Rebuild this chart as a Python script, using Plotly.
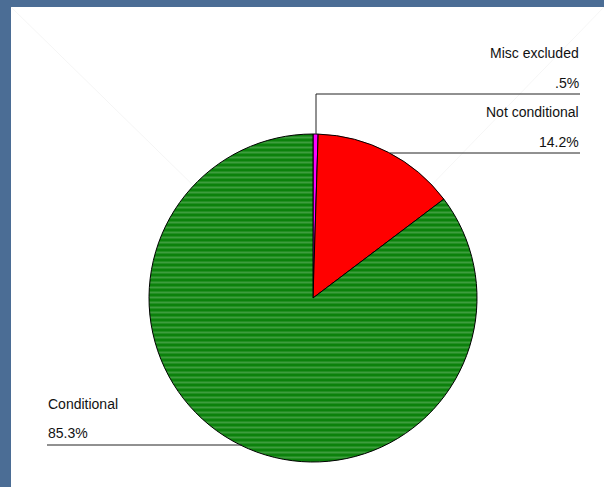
import plotly.graph_objects as go

labels = ["Misc excluded", "Not conditional", "Conditional"]
values = [0.5, 14.2, 85.3]
pct_text = [".5%", "14.2%", "85.3%"]
colors = ["#ff00ff", "#ff0000", "#0d840d"]

W, H = 604, 487
cx, cy, r = 313, 298, 164

def px(x):
    return x / W

def py(y):
    return 1 - y / H

fig = go.Figure(go.Pie(
    labels=labels, values=values, sort=False, direction="clockwise", rotation=0,
    marker=dict(colors=colors, line=dict(color="black", width=1),
                pattern=dict(shape=["", "", "-"], fgcolor="#3d9d3d", bgcolor="#0b820b",
                             fillmode="replace", size=5, solidity=0.4, fgopacity=1)),
    textinfo="none", hoverinfo="label+percent", showlegend=False,
    domain=dict(x=[px(cx - r), px(cx + r)], y=[py(cy + r), py(cy - r)]),
))

shapes = [
    # white slide area
    dict(type="rect", xref="paper", yref="paper", x0=px(11), x1=1, y0=0, y1=py(7),
         fillcolor="white", line=dict(width=0), layer="below"),
    # faint diagonal lines
    dict(type="line", xref="paper", yref="paper", x0=px(11), y0=py(7), x1=px(300), y1=py(290),
         line=dict(color="#f5f5f5", width=1), layer="below"),
    dict(type="line", xref="paper", yref="paper", x0=px(604), y0=py(7), x1=px(330), y1=py(290),
         line=dict(color="#f6f6f6", width=1), layer="below"),
    # leader lines
    dict(type="line", xref="paper", yref="paper", x0=px(316), y0=py(134), x1=px(316), y1=py(94),
         line=dict(color="#222", width=1)),
    dict(type="line", xref="paper", yref="paper", x0=px(316), y0=py(94), x1=px(580), y1=py(94),
         line=dict(color="#222", width=1)),
    dict(type="line", xref="paper", yref="paper", x0=px(390), y0=py(153), x1=px(580), y1=py(153),
         line=dict(color="#222", width=1)),
    dict(type="line", xref="paper", yref="paper", x0=px(47), y0=py(445), x1=px(242), y1=py(445),
         line=dict(color="#222", width=1)),
]

font = dict(family="Liberation Sans, Arial, sans-serif", size=14, color="#111")
ann = []
def add(text, x, y, anchor):
    ann.append(dict(text=text, xref="paper", yref="paper", x=px(x), y=py(y),
                    xanchor=anchor, yanchor="middle", showarrow=False, font=font))

add(labels[0], 581, 53, "right")
add(pct_text[0], 581, 83, "right")
add(labels[1], 581, 112, "right")
add(pct_text[1], 581, 142, "right")
add(labels[2], 46, 404, "left")
add(pct_text[2], 46, 433, "left")

fig.update_layout(
    width=W, height=H, margin=dict(l=0, r=0, t=0, b=0),
    paper_bgcolor="#4b6d95", plot_bgcolor="white",
    shapes=shapes, annotations=ann,
)

fig.write_html("out.html")
